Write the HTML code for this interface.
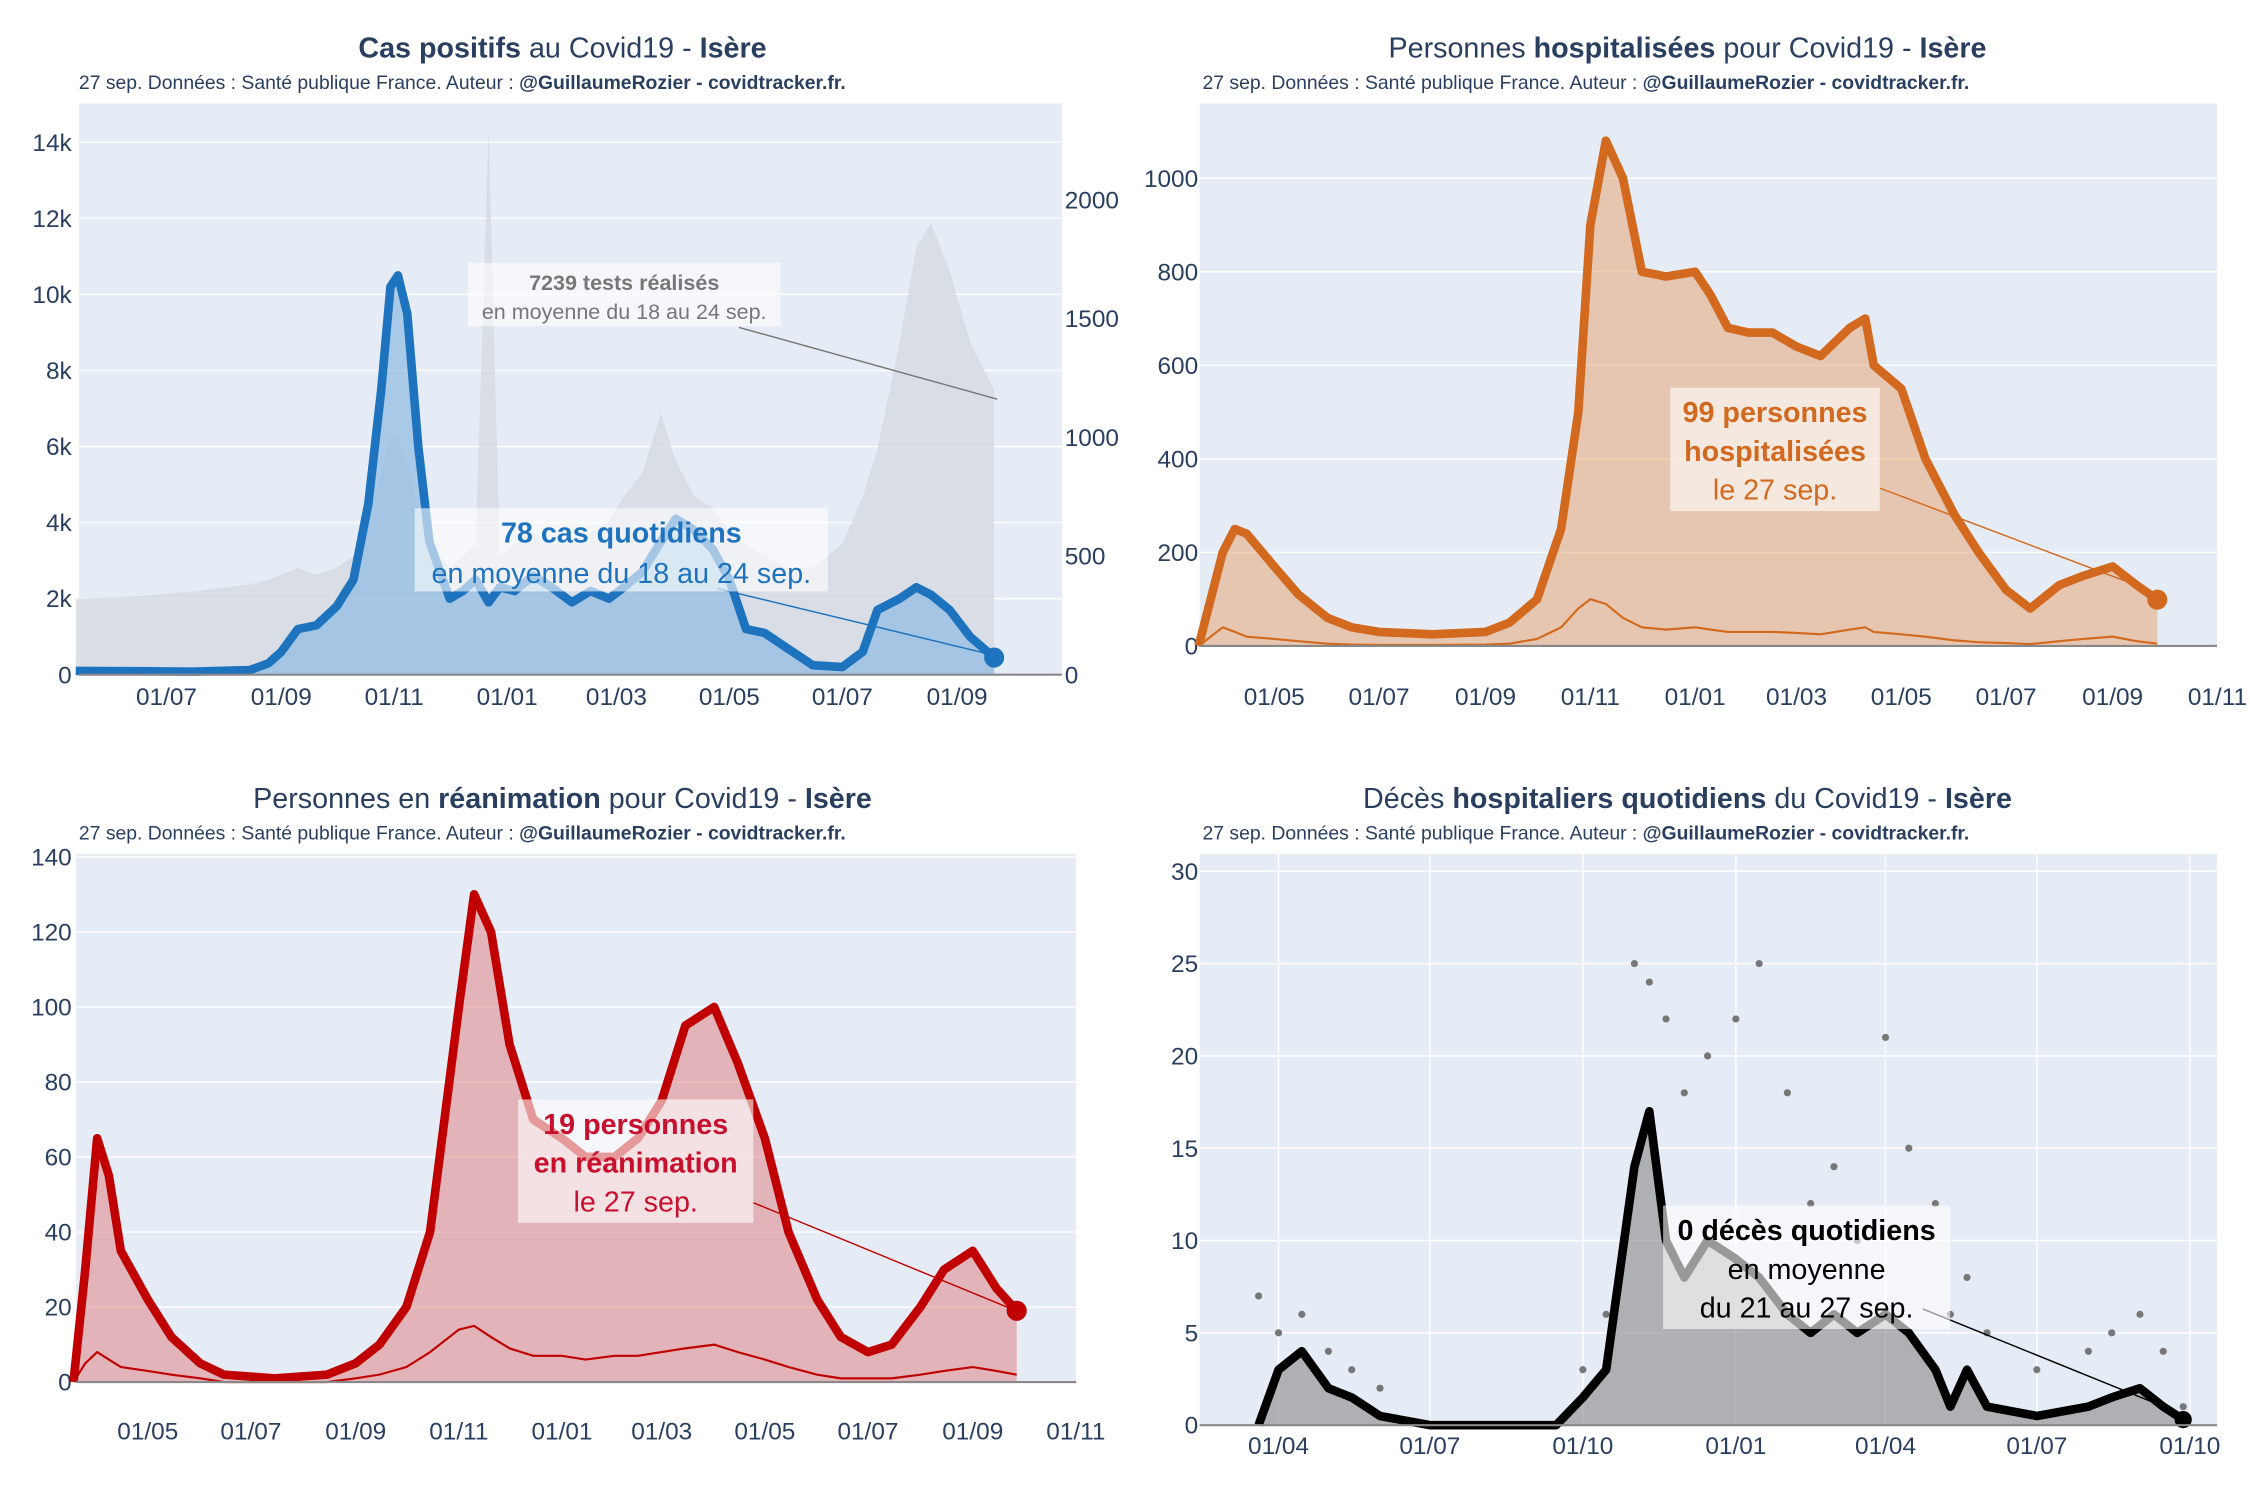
<!DOCTYPE html>
<html><head><meta charset="utf-8"><style>
html,body{margin:0;padding:0;background:#fff}
svg{display:block;font-family:"Liberation Sans","DejaVu Sans",sans-serif}
</style></head><body>
<svg id="c" width="2250" height="1500" viewBox="0 0 1568 1045" xmlns="http://www.w3.org/2000/svg">
<rect width="1568" height="1045" fill="#fff"/>
<g id="g1"></g>
<g id="g2"></g>
<g id="g3"></g>
<g id="g4"></g>
</svg>
<script>
// ---- data ----
const casesDates=["2020-05-13","2020-06-15","2020-07-15","2020-08-15","2020-08-25","2020-09-01","2020-09-10","2020-09-20","2020-10-01","2020-10-10","2020-10-18","2020-10-25","2020-10-30","2020-11-03","2020-11-08","2020-11-14","2020-11-20","2020-12-01","2020-12-08","2020-12-15","2020-12-22","2020-12-28","2021-01-05","2021-01-15","2021-01-25","2021-02-05","2021-02-15","2021-02-25","2021-03-05","2021-03-15","2021-03-25","2021-04-02","2021-04-12","2021-04-22","2021-05-01","2021-05-10","2021-05-20","2021-06-01","2021-06-15","2021-07-01","2021-07-12","2021-07-20","2021-08-01","2021-08-10","2021-08-18","2021-08-28","2021-09-08","2021-09-21"];
const casesVals=[100,90,80,120,300,600,1200,1300,1800,2500,4500,7500,10200,10500,9500,6000,3500,2000,2200,2500,1900,2300,2200,2600,2300,1900,2200,2000,2300,2700,3500,4100,3800,3300,2500,1200,1100,700,250,200,600,1700,2000,2300,2100,1700,1000,450];
const testsVals=[320,330,350,380,400,420,450,420,450,500,650,850,1000,1000,900,700,550,450,500,550,2300,500,550,600,550,550,600,650,750,850,1100,900,750,700,600,550,500,450,450,550,750,950,1400,1800,1900,1700,1400,1200];
const hospDates=["2020-03-18","2020-03-25","2020-04-01","2020-04-08","2020-04-15","2020-05-01","2020-05-15","2020-06-01","2020-06-15","2020-07-01","2020-08-01","2020-09-01","2020-09-15","2020-10-01","2020-10-15","2020-10-25","2020-11-01","2020-11-10","2020-11-20","2020-12-01","2020-12-15","2021-01-01","2021-01-10","2021-01-20","2021-02-01","2021-02-15","2021-03-01","2021-03-15","2021-04-01","2021-04-10","2021-04-15","2021-05-01","2021-05-15","2021-06-01","2021-06-15","2021-07-01","2021-07-15","2021-08-01","2021-08-15","2021-09-01","2021-09-15","2021-09-27"];
const hospVals=[0,100,200,250,240,170,110,60,40,30,25,30,50,100,250,500,900,1080,1000,800,790,800,750,680,670,670,640,620,680,700,600,550,400,280,200,120,80,130,150,170,130,99];
const admVals=[0,20,40,30,20,15,10,5,3,2,2,3,5,15,40,80,100,90,60,40,35,40,35,30,30,30,28,25,35,40,30,25,20,12,8,6,4,10,15,20,10,5];
const icuDates=["2020-03-18","2020-03-25","2020-04-01","2020-04-08","2020-04-15","2020-05-01","2020-05-15","2020-06-01","2020-06-15","2020-07-15","2020-08-15","2020-09-01","2020-09-15","2020-10-01","2020-10-15","2020-11-01","2020-11-10","2020-11-20","2020-12-01","2020-12-15","2021-01-01","2021-01-15","2021-02-01","2021-02-15","2021-03-01","2021-03-15","2021-04-01","2021-04-15","2021-05-01","2021-05-15","2021-06-01","2021-06-15","2021-07-01","2021-07-15","2021-08-01","2021-08-15","2021-09-01","2021-09-15","2021-09-27"];
const icuVals=[0,30,65,55,35,22,12,5,2,1,2,5,10,20,40,100,130,120,90,70,65,60,60,65,75,95,100,85,65,40,22,12,8,10,20,30,35,25,19];
const icuAdm=[0,5,8,6,4,3,2,1,0,0,0,1,2,4,8,14,15,12,9,7,7,6,7,7,8,9,10,8,6,4,2,1,1,1,2,3,4,3,2];
const deathDates=["2020-03-20","2020-04-01","2020-04-15","2020-05-01","2020-05-15","2020-06-01","2020-07-01","2020-08-01","2020-09-15","2020-10-01","2020-10-15","2020-11-01","2020-11-10","2020-11-20","2020-12-01","2020-12-15","2021-01-01","2021-01-15","2021-02-01","2021-02-15","2021-03-01","2021-03-15","2021-04-01","2021-04-15","2021-05-01","2021-05-10","2021-05-20","2021-06-01","2021-07-01","2021-08-01","2021-08-15","2021-09-01","2021-09-15","2021-09-27"];
const deathVals=[0,3,4,2,1.5,0.5,0,0,0,1.5,3,14,17,10,8,10,9,8,6,5,6,5,6,5,3,1,3,1,0.5,1,1.5,2,1,0.3];
const deathDots=[7,5,6,4,3,2,0,0,0,3,6,25,24,22,18,20,22,25,18,12,14,10,21,15,12,6,8,5,3,4,5,6,4,1];
const yTicks1=[0,2000,4000,6000,8000,10000,12000,14000];
const yTicks1Lbl=["0","2k","4k","6k","8k","10k","12k","14k"];
const yTicks1R=[0,500,1000,1500,2000];
const yTicks2=[0,200,400,600,800,1000];
const yTicks3=[0,20,40,60,80,100,120,140];
const yTicks4=[0,5,10,15,20,25,30];

const NS="http://www.w3.org/2000/svg";
function E(p,t,a,txt){const e=document.createElementNS(NS,t);for(const k in a)e.setAttribute(k,a[k]);if(txt!==undefined)e.textContent=txt;p.appendChild(e);return e;}
function day(s){const[p,q,r]=s.split("-").map(Number);return Date.UTC(p,q-1,r)/864e5;}
function mkX(refDate,refX,refDate2,refX2){const d1=day(refDate),d2=day(refDate2);return s=>refX+(day(s)-d1)*(refX2-refX)/(d2-d1);}
function mkY(v0,y0,v1,y1){return v=>y0+(v-v0)*(y1-y0)/(v1-v0);}
function path(dates,vals,X,Y){return dates.map((d,i)=>(i?"L":"M")+X(d).toFixed(1)+","+Y(vals[i]).toFixed(1)).join("");}
function panelBg(g,x,y,w,h){const r=E(g,"rect",{x,y,width:w,height:h,fill:"#e5ecf6"});}
function hgrid(g,ticks,Y,x1,x2,lbls,lx,anchor){ticks.forEach((t,i)=>{if(t>0)E(g,"line",{x1,x2,y1:Y(t),y2:Y(t),stroke:"#fff","stroke-width":1});const tx=E(g,"text",{x:lx,y:Y(t)+6,"font-size":17,fill:"#2a3f5f","text-anchor":anchor},lbls?lbls[i]:String(t));});}
function xticks(g,labs,X,y){labs.forEach(d=>{const t=E(g,"text",{x:X(d),y,"font-size":17,fill:"#2a3f5f","text-anchor":"middle"},d.slice(8,10)+"/"+d.slice(5,7));});}
function title(g,x,y,parts){const t=E(g,"text",{x,y,"font-size":20,fill:"#2a3f5f","text-anchor":"middle"});parts.forEach(p=>{E(t,"tspan",p[1]?{"font-weight":"bold"}:{},p[0]);});}
function sub(g,x,y){const t=E(g,"text",{x,y,"font-size":13.5,fill:"#2a3f5f"});E(t,"tspan",{},"27 sep. Données : Santé publique France. Auteur : ");E(t,"tspan",{"font-weight":"bold"},"@GuillaumeRozier - covidtracker.fr.");}
function annot(g,x,y,w,h,lines,color){const r=E(g,"rect",{x:x-w/2,y,width:w,height:h,fill:"#fff","fill-opacity":0.6});lines.forEach((l,i)=>{const t=E(g,"text",{x,y:y+l[2],"font-size":l[3],fill:color,"text-anchor":"middle","font-weight":l[1]?"bold":"normal"},l[0]);});}

// ---- Panel 1 ----
(function(){const g=document.getElementById("g1");
panelBg(g,55,72,685,398);
const X=mkX("2020-07-01",116,"2021-07-01",587),Y=mkY(0,470,14000,99),YR=mkY(0,470,2000,139);
hgrid(g,yTicks1,Y,55,740,yTicks1Lbl,50,"end");
yTicks1R.forEach(t=>{const tx=E(g,"text",{x:742,y:YR(t)+6,"font-size":17,fill:"#2a3f5f"},String(t));});
const tp=path(casesDates,testsVals,X,YR)+"L"+X(casesDates[casesDates.length-1])+",470L"+X(casesDates[0])+",470Z";
const ta=E(g,"path",{d:tp,fill:"#d3d8e0","fill-opacity":0.75});
const cp=path(casesDates,casesVals,X,Y);
const ca=E(g,"path",{d:cp+"L"+X(casesDates[casesDates.length-1])+",470L"+X(casesDates[0])+",470Z",fill:"#8fbbe2","fill-opacity":0.7});
const cl=E(g,"path",{d:cp,fill:"none",stroke:"#1e73be","stroke-width":6,"stroke-linejoin":"round"});
const L=casesDates.length-1;const dot=E(g,"circle",{cx:X(casesDates[L]),cy:Y(casesVals[L]),r:7,fill:"#1e73be"});
E(g,"line",{x1:515,y1:228,x2:695,y2:278,stroke:"#777","stroke-width":1});
E(g,"line",{x1:500,y1:410,x2:695,y2:457,stroke:"#1e73be","stroke-width":1});
annot(g,435,183,218,44,[["7239 tests réalisés",1,19,15],["en moyenne du 18 au 24 sep.",0,39,15]],"#777");
annot(g,433,354,288,58,[["78 cas quotidiens",1,24,20],["en moyenne du 18 au 24 sep.",0,52,20]],"#1e73be");
E(g,"line",{x1:55,x2:740,y1:470,y2:470,stroke:"#888","stroke-width":1.5});
xticks(g,["2020-07-01","2020-09-01","2020-11-01","2021-01-01","2021-03-01","2021-05-01","2021-07-01","2021-09-01"],X,491);
title(g,392,40,[["Cas positifs",1],[" au Covid19 - ",0],["Isère",1]]);sub(g,55,62);})();

// ---- Panel 2 ----
(function(){const g=document.getElementById("g2");
panelBg(g,836,72,709,378);
const X=mkX("2020-05-01",888,"2021-05-01",1325),Y=mkY(0,450,1000,124);
hgrid(g,yTicks2,Y,836,1545,null,835,"end");
const p=path(hospDates,hospVals,X,Y),L=hospDates.length-1;
const a=E(g,"path",{d:p+"L"+X(hospDates[L])+",450L"+X(hospDates[0])+",450Z",fill:"#e8a877","fill-opacity":0.55});
const ad=E(g,"path",{d:path(hospDates,admVals,X,Y),fill:"none",stroke:"#d2691e","stroke-width":1.5});
const l=E(g,"path",{d:p,fill:"none",stroke:"#d2691e","stroke-width":6,"stroke-linejoin":"round"});
const d=E(g,"circle",{cx:X(hospDates[L]),cy:Y(hospVals[L]),r:7,fill:"#d2691e"});
E(g,"line",{x1:1310,y1:340,x2:1495,y2:410,stroke:"#d2691e","stroke-width":1});
annot(g,1237,270,146,86,[["99 personnes",1,24,20],["hospitalisées",1,51,20],["le 27 sep.",0,78,20]],"#d2691e");
E(g,"line",{x1:836,x2:1545,y1:450,y2:450,stroke:"#888","stroke-width":1.5});
xticks(g,["2020-05-01","2020-07-01","2020-09-01","2020-11-01","2021-01-01","2021-03-01","2021-05-01","2021-07-01","2021-09-01","2021-11-01"],X,491);
title(g,1176,40,[["Personnes ",0],["hospitalisées",1],[" pour Covid19 - ",0],["Isère",1]]);sub(g,838,62);})();

// ---- Panel 3 ----
(function(){const g=document.getElementById("g3");
panelBg(g,53,595,697,368);
const X=mkX("2020-05-01",103,"2021-05-01",533),Y=mkY(0,963,140,597);
hgrid(g,yTicks3,Y,53,750,null,50,"end");
const p=path(icuDates,icuVals,X,Y),L=icuDates.length-1;
const a=E(g,"path",{d:p+"L"+X(icuDates[L])+",963L"+X(icuDates[0])+",963Z",fill:"#e07a7a","fill-opacity":0.5});
const ad=E(g,"path",{d:path(icuDates,icuAdm,X,Y),fill:"none",stroke:"#c00000","stroke-width":1.5});
const l=E(g,"path",{d:p,fill:"none",stroke:"#c00000","stroke-width":6,"stroke-linejoin":"round"});
const d=E(g,"circle",{cx:X(icuDates[L]),cy:Y(icuVals[L]),r:7,fill:"#c00000"});
E(g,"line",{x1:525,y1:838,x2:705,y2:912,stroke:"#c00000","stroke-width":1});
annot(g,443,766,164,86,[["19 personnes",1,24,20],["en réanimation",1,51,20],["le 27 sep.",0,78,20]],"#c8102e");
E(g,"line",{x1:53,x2:750,y1:963,y2:963,stroke:"#888","stroke-width":1.5});
xticks(g,["2020-05-01","2020-07-01","2020-09-01","2020-11-01","2021-01-01","2021-03-01","2021-05-01","2021-07-01","2021-09-01","2021-11-01"],X,1003);
title(g,392,563,[["Personnes en ",0],["réanimation",1],[" pour Covid19 - ",0],["Isère",1]]);sub(g,55,585);})();

// ---- Panel 4 ----
(function(){const g=document.getElementById("g4");
panelBg(g,836,595,709,398);
const X=mkX("2020-04-01",891,"2021-04-01",1314),Y=mkY(0,993,30,607);
hgrid(g,yTicks4,Y,836,1545,null,835,"end");
const xl=["2020-04-01","2020-07-01","2020-10-01","2021-01-01","2021-04-01","2021-07-01","2021-10-01"];
xl.forEach(s=>E(g,"line",{x1:X(s),x2:X(s),y1:595,y2:993,stroke:"#fff","stroke-width":1}));
const p=path(deathDates,deathVals,X,Y),L=deathDates.length-1;
const a=E(g,"path",{d:p+"L"+X(deathDates[L])+",993L"+X(deathDates[0])+",993Z",fill:"#888","fill-opacity":0.6});
deathDates.forEach((s,i)=>{const c=E(g,"circle",{cx:X(s),cy:Y(deathDots[i]),r:2.5,fill:"#777"});});
const l=E(g,"path",{d:p,fill:"none",stroke:"#000","stroke-width":6,"stroke-linejoin":"round"});
const d=E(g,"circle",{cx:X(deathDates[L]),cy:Y(deathVals[L]),r:6,fill:"#000"});
E(g,"line",{x1:1340,y1:912,x2:1520,y2:985,stroke:"#000","stroke-width":1});
annot(g,1259,840,200,86,[["0 décès quotidiens",1,24,20],["en moyenne",0,51,20],["du 21 au 27 sep.",0,78,20]],"#000");
E(g,"line",{x1:836,x2:1545,y1:993,y2:993,stroke:"#888","stroke-width":1.5});
xticks(g,xl,X,1013);
title(g,1176,563,[["Décès ",0],["hospitaliers quotidiens",1],[" du Covid19 - ",0],["Isère",1]]);sub(g,838,585);})();
</script>
</body></html>
